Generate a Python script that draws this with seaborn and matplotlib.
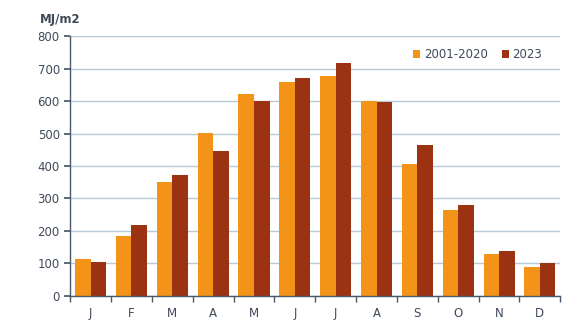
import numpy as np
import pandas as pd
import matplotlib
matplotlib.use("Agg")
import matplotlib.pyplot as plt
import seaborn as sns

months = ["J", "F", "M", "A", "M", "J", "J", "A", "S", "O", "N", "D"]
series_names = ["2001-2020", "2023"]
avg_2001_2020 = [115, 185, 352, 503, 622, 660, 678, 600, 407, 263, 130, 88]
year_2023 = [103, 218, 372, 445, 600, 670, 718, 598, 464, 279, 139, 101]

colors = ["#F39419", "#9B3313"]
text_col = "#3F4A5A"

sns.set_theme(style="white")
plt.rcParams["font.family"] = ["DejaVu Sans"]

df = pd.DataFrame({
    "month_idx": list(range(12)) * 2,
    "value": avg_2001_2020 + year_2023,
    "series": [series_names[0]] * 12 + [series_names[1]] * 12,
})

fig = plt.figure(figsize=(5.66, 3.34), dpi=100)
ax = fig.add_axes([0.124, 0.114, 0.866, 0.778])

sns.barplot(data=df, x="month_idx", y="value", hue="series", palette=colors,
            width=0.76, gap=0, saturation=1, linewidth=0, edgecolor="none",
            ax=ax, legend=True)

ax.set_ylim(0, 800)
ax.set_xlim(-0.5, 11.5)
ax.set_yticks(np.arange(0, 801, 100))
ax.yaxis.grid(True, color="#B7CADA", linewidth=1)
ax.set_axisbelow(True)
ax.set_xticks(range(12))
ax.set_xticklabels(months)
ax.set_xlabel("")
ax.set_ylabel("")
for s in ["top", "right"]:
    ax.spines[s].set_visible(False)
for s in ["left", "bottom"]:
    ax.spines[s].set_color("#4A5868")
    ax.spines[s].set_linewidth(1)

ax.tick_params(axis="y", length=4, color="#4A5868", labelsize=8.5, labelcolor=text_col, direction="out", left=True)
ax.tick_params(axis="x", length=0, labelsize=8.5, labelcolor=text_col, pad=8)
# minor ticks between months
ax.set_xticks(np.arange(-0.5, 12, 1), minor=True)
ax.tick_params(axis="x", which="minor", length=4, color="#4A5868", direction="out", bottom=True)

ax.text(-0.02, 1.04, "MJ/m2", transform=ax.transAxes, ha="center", va="bottom",
        fontsize=8.5, fontweight="bold", color=text_col)

handles, labels = ax.get_legend_handles_labels()
ax.legend(handles, labels, loc="upper right", bbox_to_anchor=(0.985, 0.995), frameon=False,
          fontsize=8.5, handlelength=0.6, handleheight=0.6, handletextpad=0.3,
          columnspacing=1.2, ncol=2, labelcolor=text_col)

fig.savefig("out.png", dpi=100)
